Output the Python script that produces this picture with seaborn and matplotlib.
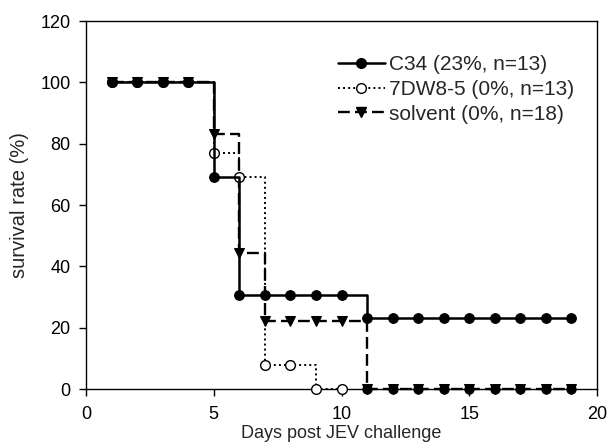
import numpy as np
import pandas as pd
import matplotlib
matplotlib.use("Agg")
import matplotlib.pyplot as plt
from matplotlib.lines import Line2D
import seaborn as sns

sns.set_theme(style="ticks")
plt.rcParams["font.family"] = ["Liberation Sans", "DejaVu Sans"]

# Survival (%) per day after JEV challenge
days_c34 = list(range(1, 20))
surv_c34 = [100, 100, 100, 100, 69.2, 30.8, 30.8, 30.8, 30.8, 30.8,
            23.1, 23.1, 23.1, 23.1, 23.1, 23.1, 23.1, 23.1, 23.1]

days_7dw = list(range(1, 11))
surv_7dw = [100, 100, 100, 100, 76.9, 69.2, 7.7, 7.7, 0, 0]

days_solv = list(range(1, 20))
surv_solv = [100, 100, 100, 100, 83.3, 44.4, 22.2, 22.2, 22.2, 22.2,
             0, 0, 0, 0, 0, 0, 0, 0, 0]

labels = ["C34 (23%, n=13)", "7DW8-5 (0%, n=13)", "solvent (0%, n=18)"]

fig = plt.figure(figsize=(6.09, 4.44), dpi=100)
L, R, T, B = 86, 597, 21, 389
ax = fig.add_axes([L / 609, 1 - B / 444, (R - L) / 609, (B - T) / 444])

df_solv = pd.DataFrame({"day": days_solv, "surv": surv_solv})
df_7dw = pd.DataFrame({"day": days_7dw, "surv": surv_7dw})
df_c34 = pd.DataFrame({"day": days_c34, "surv": surv_c34})

# solvent: dashed step line with down triangles
sns.lineplot(data=df_solv, x="day", y="surv", ax=ax, color="black",
             drawstyle="steps-post", linestyle=(0, (5, 2.2)), linewidth=1.7,
             marker="v", markersize=7, markeredgecolor="black",
             markerfacecolor="black", zorder=3, clip_on=False)
zero = df_solv[df_solv["surv"] == 0]
ax.scatter(zero["day"], zero["surv"], s=42, c="black", marker="o",
           zorder=4, clip_on=False)

# 7DW8-5: dotted step line with open circles
sns.lineplot(data=df_7dw, x="day", y="surv", ax=ax, color="black",
             drawstyle="steps-post", linestyle=(0, (1, 1.6)), linewidth=1.4,
             marker="o", markersize=7, markeredgecolor="black",
             markerfacecolor="white", markeredgewidth=1.0, zorder=3,
             clip_on=False)

# C34: solid step line with filled circles
sns.lineplot(data=df_c34, x="day", y="surv", ax=ax, color="black",
             drawstyle="steps-post", linestyle="-", linewidth=1.8,
             marker="o", markersize=7, markeredgecolor="black",
             markerfacecolor="black", zorder=5, clip_on=False)

ax.set_xlim(0, 20)
ax.set_ylim(0, 120)
ax.set_xticks([0, 5, 10, 15, 20])
ax.set_yticks([0, 20, 40, 60, 80, 100, 120])
ax.tick_params(direction="out", length=5, width=1, labelsize=13,
               colors="black")
ax.tick_params(axis="x", pad=7)
ax.tick_params(axis="y", pad=6)
for s in ax.spines.values():
    s.set_visible(True)
    s.set_color("black")
    s.set_linewidth(1.0)
ax.set_xlabel("Days post JEV challenge", fontsize=13, labelpad=2)
ax.set_ylabel("survival rate (%)", fontsize=14.5, labelpad=8)

handles = [
    Line2D([], [], color="black", linestyle="-", linewidth=1.8, marker="o",
           markersize=7, markerfacecolor="black"),
    Line2D([], [], color="black", linestyle=(0, (1, 1.6)), linewidth=1.4,
           marker="o", markersize=7, markerfacecolor="white"),
    Line2D([], [], color="black", linestyle=(0, (5, 2.2)), linewidth=1.7,
           marker="v", markersize=7, markerfacecolor="black"),
]
ax.legend(handles, labels, loc="upper left",
          bbox_to_anchor=((338 - L) / (R - L), (B - 55) / (B - T)),
          frameon=False, fontsize=15, handlelength=2.25, handletextpad=0.2,
          labelspacing=0.28, borderpad=0, borderaxespad=0)

fig.savefig("out.png", dpi=100)
